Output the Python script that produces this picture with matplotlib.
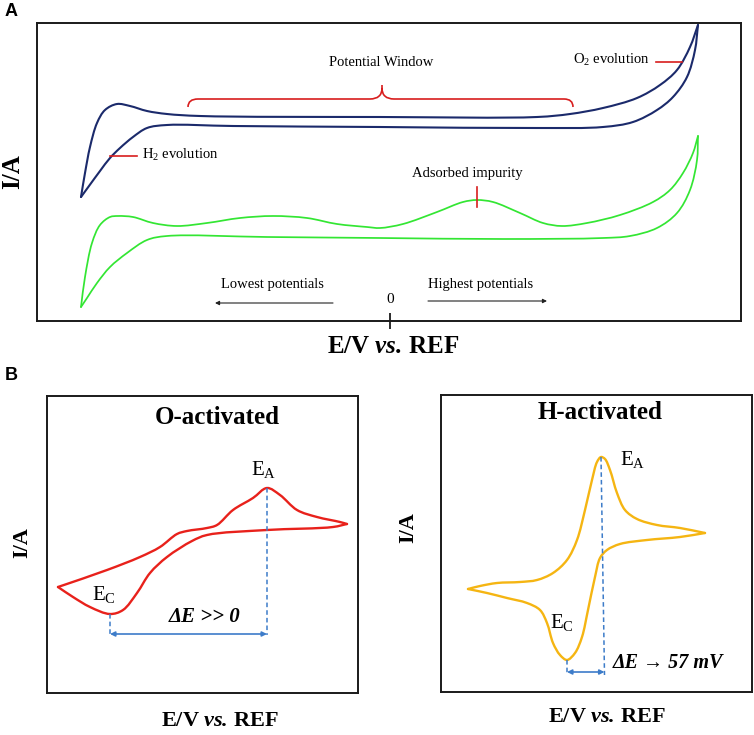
import numpy as np
import matplotlib
matplotlib.use("Agg")
import matplotlib.pyplot as plt
from matplotlib.path import Path
from matplotlib.patches import PathPatch

plt.rcParams.update({
    "font.family": ["Liberation Serif", "DejaVu Serif"],
    "mathtext.fontset": "custom",
    "mathtext.rm": "Liberation Serif",
    "mathtext.it": "Liberation Serif:italic",
    "mathtext.bf": "Liberation Serif:bold",
    "mathtext.bfit": "Liberation Serif:italic:bold",
})

W, H = 754, 735

# ---- data: points (image pixel units, y downwards) ----
# panel A, clean electrode (blue)
blue_fwd_E = [81, 85, 90, 97, 105, 117, 130, 147, 167, 200, 380, 537, 570, 603, 637, 660, 677, 690, 698]
blue_fwd_I = [197, 173, 147, 123, 110, 104, 106, 111, 114, 116, 117, 117, 114, 108, 98, 85, 70, 47, 25]
blue_rev_E = [698, 695, 687, 673, 657, 633, 603, 537, 380, 233, 167, 147, 133, 120, 110, 100, 89, 81]
blue_rev_I = [25, 50, 77, 97, 110, 122, 127, 128, 127, 126, 125, 128, 137, 148, 158, 171, 186, 197]
# panel A, contaminated electrode (green)
green_fwd_E = [81, 85, 92, 100, 110, 118, 133, 153, 177, 207, 240, 273, 307, 337, 367, 380, 403, 437,
               463, 477, 493, 520, 543, 562, 587, 620, 653, 670, 683, 693, 698]
green_fwd_I = [307, 277, 243, 225, 217, 216, 217, 223, 226, 223, 218, 216, 218, 224, 227, 228, 224, 212,
               202, 200, 202, 213, 223, 226, 223, 215, 202, 190, 173, 153, 136]
green_rev_E = [698, 697, 690, 677, 657, 630, 603, 503, 380, 267, 167, 147, 127, 110, 97, 87, 81]
green_rev_I = [136, 160, 190, 213, 228, 236, 238, 239, 238, 237, 236, 240, 253, 267, 283, 298, 307]
E_zero = 390

# panel B, O-activated (red)
o_fwd_E = [58, 107, 140, 160, 177, 187, 207, 217, 233, 253, 267, 280, 297, 317, 340, 347]
o_fwd_I = [587, 570, 557, 547, 534, 531, 528, 525, 510, 498, 488, 495, 510, 517, 522, 524]
o_rev_E = [347, 333, 267, 207, 192, 167, 150, 137, 123, 110, 90, 73, 58]
o_rev_I = [524, 527, 530, 535, 541, 557, 573, 593, 610, 614, 607, 597, 587]

# panel B, H-activated (orange)
h_fwd_E = [468, 480, 497, 520, 537, 553, 567, 577, 585, 592, 597, 601, 605, 610, 617, 625, 637, 657, 680, 705]
h_fwd_I = [589, 586, 583, 582, 580, 573, 560, 540, 510, 480, 462, 457, 459, 470, 493, 510, 519, 525, 528, 533]
h_rev_E = [705, 680, 647, 620, 607, 600, 595, 588, 582, 575, 567, 560, 553, 547, 540, 527, 507, 487, 468]
h_rev_I = [533, 537, 540, 544, 550, 558, 577, 610, 637, 653, 660, 655, 643, 623, 610, 603, 598, 593, 589]

navy = "#1b2a6b"
green = "#33e633"
red = "#e8211b"
orange = "#f5b512"
dash_blue = "#3d7cc9"
mark_red = "#d81e1e"


def smooth(xs, ys, a=0.5):
    # centripetal Catmull-Rom through the read points, drawn as cubic Bezier
    p = np.column_stack([xs, ys]).astype(float)
    n = len(p)
    verts, codes = [p[0]], [Path.MOVETO]
    for i in range(n - 1):
        p1, p2 = p[i], p[i + 1]
        d2 = np.linalg.norm(p2 - p1) ** a
        if i > 0:
            p0 = p[i - 1]
            d1 = np.linalg.norm(p1 - p0) ** a
            c1 = (d1 ** 2 * p2 - d2 ** 2 * p0 + (2 * d1 ** 2 + 3 * d1 * d2 + d2 ** 2) * p1) / (3 * d1 * (d1 + d2))
        else:
            c1 = p1 + (p2 - p1) / 3
        if i + 2 < n:
            p3 = p[i + 2]
            d3 = np.linalg.norm(p3 - p2) ** a
            c2 = (d3 ** 2 * p1 - d2 ** 2 * p3 + (2 * d3 ** 2 + 3 * d3 * d2 + d2 ** 2) * p2) / (3 * d3 * (d3 + d2))
        else:
            c2 = p2 - (p2 - p1) / 3
        verts += [c1, c2, p2]
        codes += [Path.CURVE4] * 3
    return Path(verts, codes)


def draw(ax, xs, ys, color, lw):
    ax.add_patch(PathPatch(smooth(xs, ys), fill=False, ec=color, lw=lw,
                           capstyle="round", joinstyle="round"))


def panel(l, t, r, b):
    ax = fig.add_axes([l / W, 1 - b / H, (r - l) / W, (b - t) / H])
    ax.set_xlim(l, r)
    ax.set_ylim(b, t)
    ax.set_xticks([])
    ax.set_yticks([])
    for s in ax.spines.values():
        s.set_linewidth(1.4)
        s.set_color("#1a1a1a")
    ax.set_facecolor("none")
    return ax


fig = plt.figure(figsize=(W / 100, H / 100), dpi=100)

# panel A
axA = panel(37, 23, 741, 321)
draw(axA, blue_fwd_E, blue_fwd_I, navy, 1.5)
draw(axA, blue_rev_E, blue_rev_I, navy, 1.5)
draw(axA, green_fwd_E, green_fwd_I, green, 1.25)
draw(axA, green_rev_E, green_rev_I, green, 1.25)
axA.set_xticks([E_zero])
axA.tick_params(axis="x", direction="inout", length=11.5, width=1.3, labelbottom=False, color="#1a1a1a")

# panel B left
axO = panel(47, 396, 358, 693)
draw(axO, o_fwd_E, o_fwd_I, red, 1.7)
draw(axO, o_rev_E, o_rev_I, red, 1.7)

# panel B right
axH = panel(441, 395, 752, 692)
draw(axH, h_fwd_E, h_fwd_I, orange, 1.7)
draw(axH, h_rev_E, h_rev_I, orange, 1.7)


# peak markers from data
def peaks(fwd_E, fwd_I, rev_E, rev_I):
    ia = int(np.argmin(fwd_I))
    ic = int(np.argmax(rev_I))
    return fwd_E[ia], fwd_I[ia], rev_E[ic], rev_I[ic]


dash = dict(color=dash_blue, lw=1.1, ls=(0, (3, 2)))
arr = dict(arrowstyle="<|-|>", color=dash_blue, lw=1.2, mutation_scale=7, shrinkA=0, shrinkB=0)

ea_x, ea_y, ec_x, ec_y = peaks(o_fwd_E, o_fwd_I, o_rev_E, o_rev_I)
axO.plot([ea_x, ea_x], [ea_y, 635], **dash)
axO.plot([ec_x, ec_x], [ec_y, 635], **dash)
axO.annotate("", xy=(ea_x, 634), xytext=(ec_x, 634), arrowprops=arr)

ea_x, ea_y, ec_x, ec_y = peaks(h_fwd_E, h_fwd_I, h_rev_E, h_rev_I)
axH.plot([ea_x, ea_x + 3.5], [ea_y, 675], **dash)
axH.plot([ec_x, ec_x], [ec_y, 675], **dash)
axH.annotate("", xy=(ea_x + 3.5, 672), xytext=(ec_x, 672), arrowprops=arr)

# overlay canvas for labels and annotations (pixel coordinates)
cv = fig.add_axes([0, 0, 1, 1], zorder=5)
cv.set_xlim(0, W)
cv.set_ylim(H, 0)
cv.axis("off")
cv.patch.set_alpha(0)

sans = ["Liberation Sans", "DejaVu Sans"]
cv.text(5, 11, "A", family=sans, weight="bold", fontsize=13, va="center", ha="left")
cv.text(5, 375, "B", family=sans, weight="bold", fontsize=13, va="center", ha="left")

xl = r"$\mathbf{E/V}\ \mathbfit{vs.}\,\mathbf{REF}$"
cv.text(13, 172, "I/A", rotation=90, fontsize=18, weight="bold", ha="center", va="center")
cv.text(393, 347, xl, fontsize=18, ha="center", va="center")
cv.text(E_zero, 299, "0", fontsize=11, ha="center", va="center")

cv.text(272, 284, "Lowest potentials", fontsize=10.5, ha="center", va="center")
cv.text(481, 284, "Highest potentials", fontsize=10.5, ha="center", va="center")
thin = dict(arrowstyle="-|>", color="#222222", lw=0.8, mutation_scale=6, shrinkA=0, shrinkB=0)
cv.annotate("", xy=(215, 303), xytext=(333, 303), arrowprops=thin)
cv.annotate("", xy=(547, 301), xytext=(428, 301), arrowprops=thin)

cv.text(381, 62, "Potential Window", fontsize=10.5, ha="center", va="center")
cv.text(650, 60, r"O$_\mathregular{2}$ evolution", fontsize=10.5, ha="right", va="center")
cv.plot([656, 682], [62, 62], color=mark_red, lw=1.2)
cv.text(142, 155, r"H$_\mathregular{2}$ evolution", fontsize=10.5, ha="left", va="center")
cv.plot([110, 137], [156, 156], color=mark_red, lw=1.2)
cv.text(467, 173, "Adsorbed impurity", fontsize=10.5, ha="center", va="center")
cv.plot([477, 477], [187, 207], color=mark_red, lw=1.2)

# curly brace for the potential window
bv = [(188, 107), (188, 99), (198, 99), (370, 99), (382, 99), (382, 88), (382, 85),
      (382, 88), (382, 99), (394, 99), (564, 99), (573, 99), (573, 107)]
bc = [Path.MOVETO, Path.CURVE3, Path.CURVE3, Path.LINETO, Path.CURVE3, Path.CURVE3, Path.LINETO,
      Path.MOVETO, Path.CURVE3, Path.CURVE3, Path.LINETO, Path.CURVE3, Path.CURVE3]
cv.add_patch(PathPatch(Path(bv, bc), fill=False, ec=mark_red, lw=1.2))

# panel B texts
cv.text(217, 417, "O-activated", fontsize=18, weight="bold", ha="center", va="center")
cv.text(600, 412, "H-activated", fontsize=18, weight="bold", ha="center", va="center")
cv.text(22, 543, "I/A", rotation=90, fontsize=16, weight="bold", ha="center", va="center")
cv.text(408, 528, "I/A", rotation=90, fontsize=16, weight="bold", ha="center", va="center")
cv.text(220, 722, xl, fontsize=16, ha="center", va="center")
cv.text(607, 717, xl, fontsize=16, ha="center", va="center")

cv.text(251, 475, r"E$_\mathregular{A}$", fontsize=15, ha="left", va="baseline")
cv.text(92, 600, r"E$_\mathregular{C}$", fontsize=15, ha="left", va="baseline")
cv.text(205, 622, "ΔE >> 0", fontsize=15, weight="bold", style="italic", ha="center", va="baseline")
cv.text(620, 465, r"E$_\mathregular{A}$", fontsize=15, ha="left", va="baseline")
cv.text(550, 628, r"E$_\mathregular{C}$", fontsize=15, ha="left", va="baseline")
cv.text(613, 668, "ΔE → 57 mV", fontsize=14.5, weight="bold", style="italic", ha="left", va="baseline")

fig.savefig("out.png", dpi=100)
